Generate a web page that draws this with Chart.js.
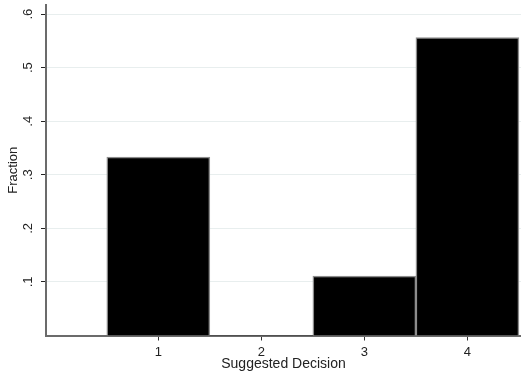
<!DOCTYPE html>
<html>
<head>
<meta charset="utf-8">
<script src="https://cdn.jsdelivr.net/npm/chart.js@4/dist/chart.umd.min.js"></script>
<style>
  body { margin: 0; background: #fff; }
  #wrap { width: 521px; height: 380px; }
</style>
</head>
<body>
<div id="wrap"><canvas id="hist" width="521" height="380"></canvas></div>
<script>
// histogram of suggested decision, fraction per category
const decisions = [1, 2, 3, 4];
const fractions = [0.333, 0, 0.111, 0.556];
const yTicks = [0.1, 0.2, 0.3, 0.4, 0.5, 0.6];

const ctx = document.getElementById('hist');
const family = "'Liberation Sans', Arial, sans-serif";
const tickFont = { family: family, size: 13 };

const points = decisions.map((d, i) => ({ x: d, y: fractions[i] }));

new Chart(ctx, {
    type: 'bar',
    data: {
        datasets: [{
            label: 'Fraction',
            data: points,
            backgroundColor: '#000',
            borderColor: '#8c8c8c',
            borderWidth: c => (c.raw && c.raw.y > 0 ? 1.5 : 0),
            barPercentage: 1,
            categoryPercentage: 1
        }]
    },
    options: {
        responsive: false,
        devicePixelRatio: 1,
        animation: false,
        layout: { autoPadding: false, padding: { top: 5, right: 0, left: 0, bottom: 0 } },
        plugins: { legend: { display: false }, tooltip: { enabled: false } },
        scales: {
            x: {
                type: 'linear',
                offset: false,
                min: -0.09,
                max: 4.52,
                afterBuildTicks: s => { s.ticks = decisions.map(v => ({ value: v })); },
                afterFit: s => { s.height = 44.5; s.paddingLeft = 0; s.paddingRight = 0; },
                grid: { offset: false, drawOnChartArea: false, drawTicks: true, tickLength: 5, tickColor: '#333', tickWidth: 1 },
                border: { color: '#6b6b6b', width: 2 },
                ticks: { font: tickFont, color: '#222', padding: 4, callback: v => String(v) },
                title: { display: true, text: 'Suggested Decision', font: { family: family, size: 14 }, color: '#222', padding: { top: 0, bottom: 7 } }
            },
            y: {
                min: 0,
                max: 0.617,
                afterBuildTicks: s => { s.ticks = yTicks.map(v => ({ value: v })); },
                afterFit: s => { s.width = 46; s.paddingTop = 0; s.paddingBottom = 0; },
                grid: { color: '#e8eeee', lineWidth: 1, tickLength: 5, tickColor: '#222', tickWidth: 1 },
                border: { color: '#6b6b6b', width: 2 },
                ticks: {
                    font: tickFont,
                    color: '#222',
                    padding: 7,
                    minRotation: 90,
                    maxRotation: 90,
                    crossAlign: 'center',
                    callback: v => v.toFixed(1).replace(/^0/, '')
                },
                title: { display: true, text: 'Fraction', font: { family: family, size: 13 }, color: '#222', padding: { top: 6, bottom: 0 } }
            }
        }
    }
});
</script>
</body>
</html>
